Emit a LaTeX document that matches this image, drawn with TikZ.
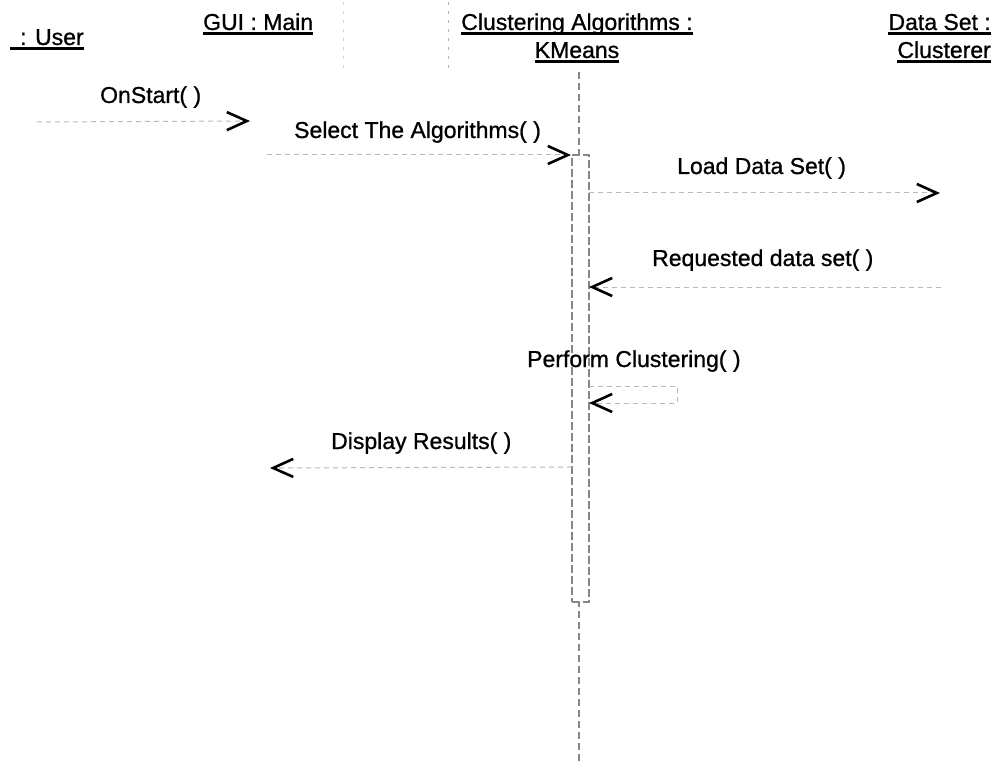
\documentclass[tikz,border=0pt]{standalone}
\usepackage{fontspec}
\setmainfont{Liberation Sans}[BoldFont=Liberation Sans, BoldFeatures={FakeBold=0.9}]
\usetikzlibrary{arrows.meta}
\begin{document}
\begin{tikzpicture}[x=1pt,y=-1pt,
  txt/.style={inner sep=0pt, font=\fontsize{23}{27}\selectfont\bfseries},
  lbl/.style={txt, anchor=base west},
  hdr/.style={txt, anchor=base},
  ul/.style={line width=3pt},
  msg/.style={draw=gray!55, line width=1pt, dash pattern=on 5pt off 4pt,
    -{Straight Barb[length=20pt,width=18pt,line width=2.6pt,color=black]}},
  life/.style={draw=gray!95, line width=1.3pt, dash pattern=on 7pt off 4pt},
  stub/.style={draw=gray!60, line width=1pt, dash pattern=on 3pt off 6pt},
  actbox/.style={draw=gray!95, line width=1.3pt, dash pattern=on 8pt off 3pt,
    fill=white, inner sep=0pt, minimum width=17pt, minimum height=447pt},
]
\useasboundingbox (0,0) rectangle (1005,765);

% object headers
\node[lbl] (user) at (20,45) {: User};
\draw[ul] ([xshift=-10pt,yshift=-4pt]user.base west) -- ([yshift=-4pt]user.base east);
\node[lbl] (gui) at (203,30) {GUI : Main};
\draw[ul] ([yshift=-4pt]gui.base west) -- ([yshift=-4pt]gui.base east);
\node[hdr] (ca) at (577,30) {Clustering Algorithms :};
\draw[ul] ([yshift=-4pt]ca.base west) -- ([yshift=-4pt]ca.base east);
\node[hdr] (km) at (577,58) {KMeans};
\draw[ul] ([yshift=-4pt]km.base west) -- ([yshift=-4pt]km.base east);
\node[txt, anchor=base east] (ds) at (991,30) {Data Set :};
\draw[ul] ([yshift=-4pt]ds.base west) -- ([yshift=-4pt]ds.base east);
\node[txt, anchor=base east] (cl) at (991,58) {Clusterer};
\draw[ul] ([yshift=-4pt]cl.base west) -- ([yshift=-4pt]cl.base east);

% short lifeline stubs under the headers
\coordinate (g1) at (343,2);  \coordinate (g2) at (343,72);
\coordinate (c1) at (448,2);  \coordinate (c2) at (448,70);
\draw[stub, draw=gray!35] (g1) -- (g2);
\draw[stub] (c1) -- (c2);

% KMeans lifeline and activation
\coordinate (kt) at (579,72);
\coordinate (kb) at (579,765);
\draw[life] (kt) -- (kb);
\node[actbox] (act) at (580.5,378.5) {};

% messages
\coordinate (m1a) at (37,122);  \coordinate (m1b) at (250,121);
\node[lbl] (l1) at (100,103) {OnStart( )};
\draw[msg] (m1a) -- (m1b);

\coordinate (m2a) at (267,155); \coordinate (m2b) at (571,155);
\node[lbl] (l2) at (294,138) {Select The Algorithms( )};
\draw[msg] (m2a) -- (m2b);

\coordinate (m3a) at (589,193); \coordinate (m3b) at (940,193);
\node[lbl] (l3) at (677,174) {Load Data Set( )};
\draw[msg] (m3a) -- (m3b);

\coordinate (m4a) at (941,287); \coordinate (m4b) at (589,287);
\node[lbl] (l4) at (652,266) {Requested data set( )};
\draw[msg] (m4a) -- (m4b);

\coordinate (m5a) at (589,386); \coordinate (m5c) at (677,386);
\coordinate (m5d) at (677,403); \coordinate (m5b) at (589,403);
\node[lbl] (l5) at (527,367) {Perform Clustering( )};
\draw[msg] (m5a) -- (m5c) -- (m5d) -- (m5b);

\coordinate (m6a) at (572,467); \coordinate (m6b) at (270,468);
\node[lbl] (l6) at (331,449) {Display Results( )};
\draw[msg] (m6a) -- (m6b);
\end{tikzpicture}
\end{document}
